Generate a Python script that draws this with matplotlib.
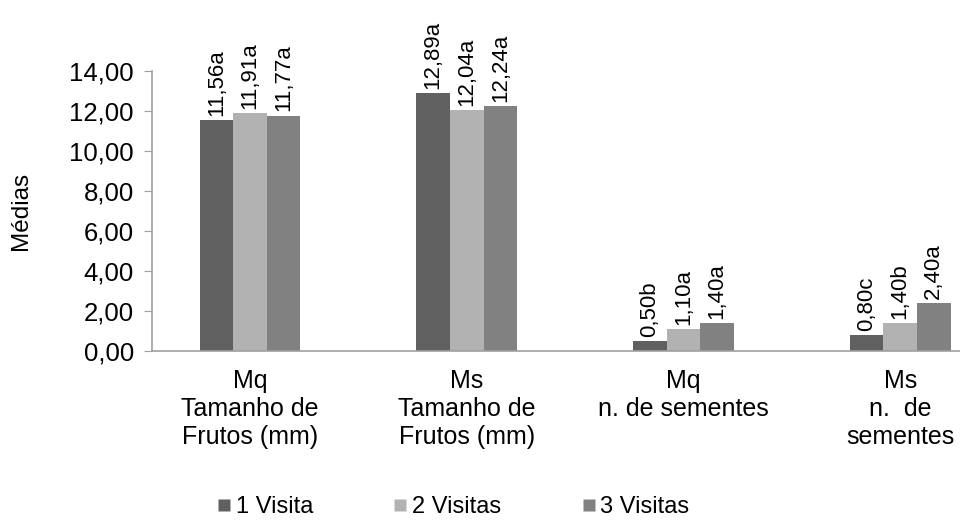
import matplotlib
matplotlib.use("Agg")
import matplotlib.pyplot as plt
from matplotlib.lines import Line2D
import numpy as np

plt.rcParams['font.family'] = ['Liberation Sans', 'DejaVu Sans']

# Data
categorias = ['Mq\nTamanho de\nFrutos (mm)', 'Ms\nTamanho de\nFrutos (mm)',
              'Mq\nn. de sementes', 'Ms\nn.  de\nsementes']
series = ['1 Visita', '2 Visitas', '3 Visitas']
visita1 = [11.56, 12.89, 0.50, 0.80]
visita2 = [11.91, 12.04, 1.10, 1.40]
visita3 = [11.77, 12.24, 1.40, 2.40]
letras1 = ['a', 'a', 'b', 'c']
letras2 = ['a', 'a', 'a', 'b']
letras3 = ['a', 'a', 'a', 'a']
cores = ['#606060', '#b2b2b2', '#818181']

fig = plt.figure(figsize=(9.6, 5.22), dpi=100)
ax = fig.add_axes([152/960, 171/522, 808/960, 280/522])

x = np.arange(len(categorias))
w = 0.155
for i, (vals, letras) in enumerate(zip([visita1, visita2, visita3],
                                       [letras1, letras2, letras3])):
    pos = x + (i - 1) * w
    bars = ax.bar(pos, vals, w, color=cores[i], edgecolor='none', label=series[i])
    for b, v, l in zip(bars, vals, letras):
        ax.annotate(f"{v:.2f}".replace('.', ',') + l,
                    (b.get_x() + b.get_width() / 2, v),
                    xytext=(0, 3), textcoords='offset points',
                    rotation=90, ha='center', va='bottom', fontsize=16)

ax.set_xlim(-0.452, 3.276)
ax.set_ylim(0, 14)
ax.set_yticks(np.arange(0, 15, 2))
ax.set_yticklabels([f"{t:.2f}".replace('.', ',') for t in np.arange(0, 15, 2)],
                   fontsize=18.5)
ax.set_xticks(x)
ax.set_xticklabels(categorias, fontsize=18, linespacing=1.2)
ax.tick_params(axis='x', length=0, pad=13)
ax.tick_params(axis='y', length=6, color='#a0a0a0', pad=7)
for s in ['top', 'right']:
    ax.spines[s].set_visible(False)
for s in ['left', 'bottom']:
    ax.spines[s].set_color('#a0a0a0')
    ax.spines[s].set_linewidth(1.2)

fig.text(21/960, 1 - 211/522, 'Médias', rotation=90, ha='center', va='center',
         fontsize=17.5)

handles = [Line2D([], [], marker='s', linestyle='none', markersize=8,
                  markerfacecolor=c, markeredgecolor='none') for c in cores]
fig.legend(handles, series, loc='center', bbox_to_anchor=(452/960, 1 - 507/522),
           ncol=3, frameon=False, fontsize=17, handletextpad=0.1,
           columnspacing=3.3, handlelength=0.8)

fig.savefig('out.png', dpi=100)
